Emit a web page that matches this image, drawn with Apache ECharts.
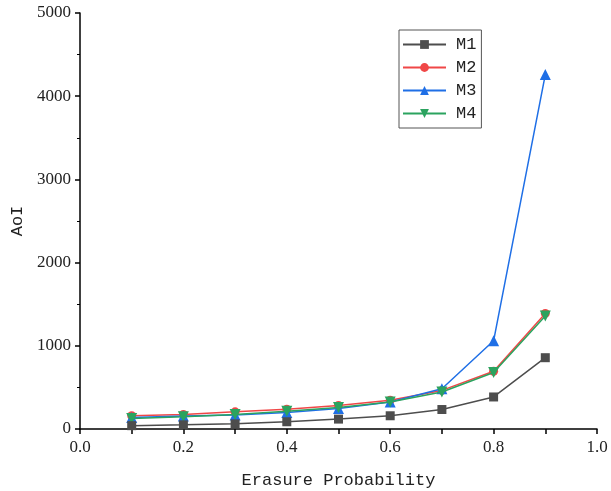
<!DOCTYPE html>
<html>
<head>
<meta charset="utf-8">
<script src="https://cdn.jsdelivr.net/npm/echarts@6/dist/echarts.min.js"></script>
<style>
  html, body { margin: 0; padding: 0; background: #fff; }
  #chart { width: 611px; height: 491px; }
</style>
</head>
<body>
<div id="chart"></div>
<script>
const probs = [0.1, 0.2, 0.3, 0.4, 0.5, 0.6, 0.7, 0.8, 0.9];
const m1 = [40, 50, 62, 87, 119, 159, 234, 385, 857];
const m2 = [159, 175, 206, 238, 282, 345, 464, 694, 1389];
const m3 = [139, 155, 167, 198, 246, 325, 484, 1060, 4260];
const m4 = [127, 147, 175, 214, 258, 325, 444, 679, 1357];

const seriesNames = ["M1", "M2", "M3", "M4"];
const seriesData = [m1, m2, m3, m4];
const colors = ["#4d4d4d", "#f04747", "#1f6fe6", "#2ba35f"];
const symbols = ["rect", "circle", "triangle", "path://M0,0 L10,0 L5,9 Z"];
const symbolSizes = [9, 9, 11, 11];
const zOrder = [8, 5, 6, 7];

const textFont = "Liberation Mono";
const numFont = "Liberation Serif";

const myChart = echarts.init(document.getElementById("chart"));

const series = seriesNames.map((name, i) => ({
  name: name,
  type: "line",
  data: probs.map((p, j) => [p, seriesData[i][j]]),
  symbol: symbols[i],
  symbolSize: symbolSizes[i],
  showAllSymbol: true,
  lineStyle: { width: 1.5, color: colors[i] },
  itemStyle: { color: colors[i] },
  z: zOrder[i],
}));

const option = {
  animation: false,
  grid: { left: 80, right: 14, top: 13, bottom: 62, outerBoundsMode: "none" },
  legend: {
    orient: "vertical",
    left: 399,
    top: 30,
    data: seriesNames,
    itemWidth: 43,
    itemHeight: 11,
    itemGap: 6,
    padding: [6, 5, 6, 3],
    borderColor: "#555",
    borderWidth: 1,
    textStyle: {
      fontFamily: textFont,
      fontSize: 17,
      color: "#222",
      padding: [0, 0, 0, 5],
    },
  },
  xAxis: {
    type: "value",
    min: 0,
    max: 1,
    interval: 0.1,
    name: "Erasure Probability",
    nameLocation: "middle",
    nameGap: 43,
    nameTextStyle: { fontFamily: textFont, fontSize: 17, color: "#222" },
    axisLine: { lineStyle: { color: "#000", width: 1.5 } },
    axisTick: { inside: false, length: 5, lineStyle: { color: "#000", width: 1.5 } },
    axisLabel: {
      fontFamily: numFont,
      fontSize: 17,
      color: "#222",
      margin: 10,
      formatter: (v) => {
        const k = Math.round(v * 10);
        return k % 2 === 0 ? (k / 10).toFixed(1) : "";
      },
    },
    splitLine: { show: false },
  },
  yAxis: {
    type: "value",
    min: 0,
    max: 5000,
    interval: 1000,
    name: "AoI",
    nameLocation: "middle",
    nameGap: 54,
    nameTextStyle: { fontFamily: textFont, fontSize: 17, color: "#222" },
    axisLine: { show: true, lineStyle: { color: "#000", width: 1.5 } },
    axisTick: { show: true, length: 5, lineStyle: { color: "#000", width: 1.5 } },
    minorTick: { show: true, splitNumber: 2, length: 3, lineStyle: { color: "#000" } },
    axisLabel: {
      fontFamily: numFont,
      fontSize: 17,
      color: "#222",
      margin: 9,
      formatter: (v) => String(v),
    },
    splitLine: { show: false },
  },
  series: series,
};

myChart.setOption(option);
</script>
</body>
</html>
